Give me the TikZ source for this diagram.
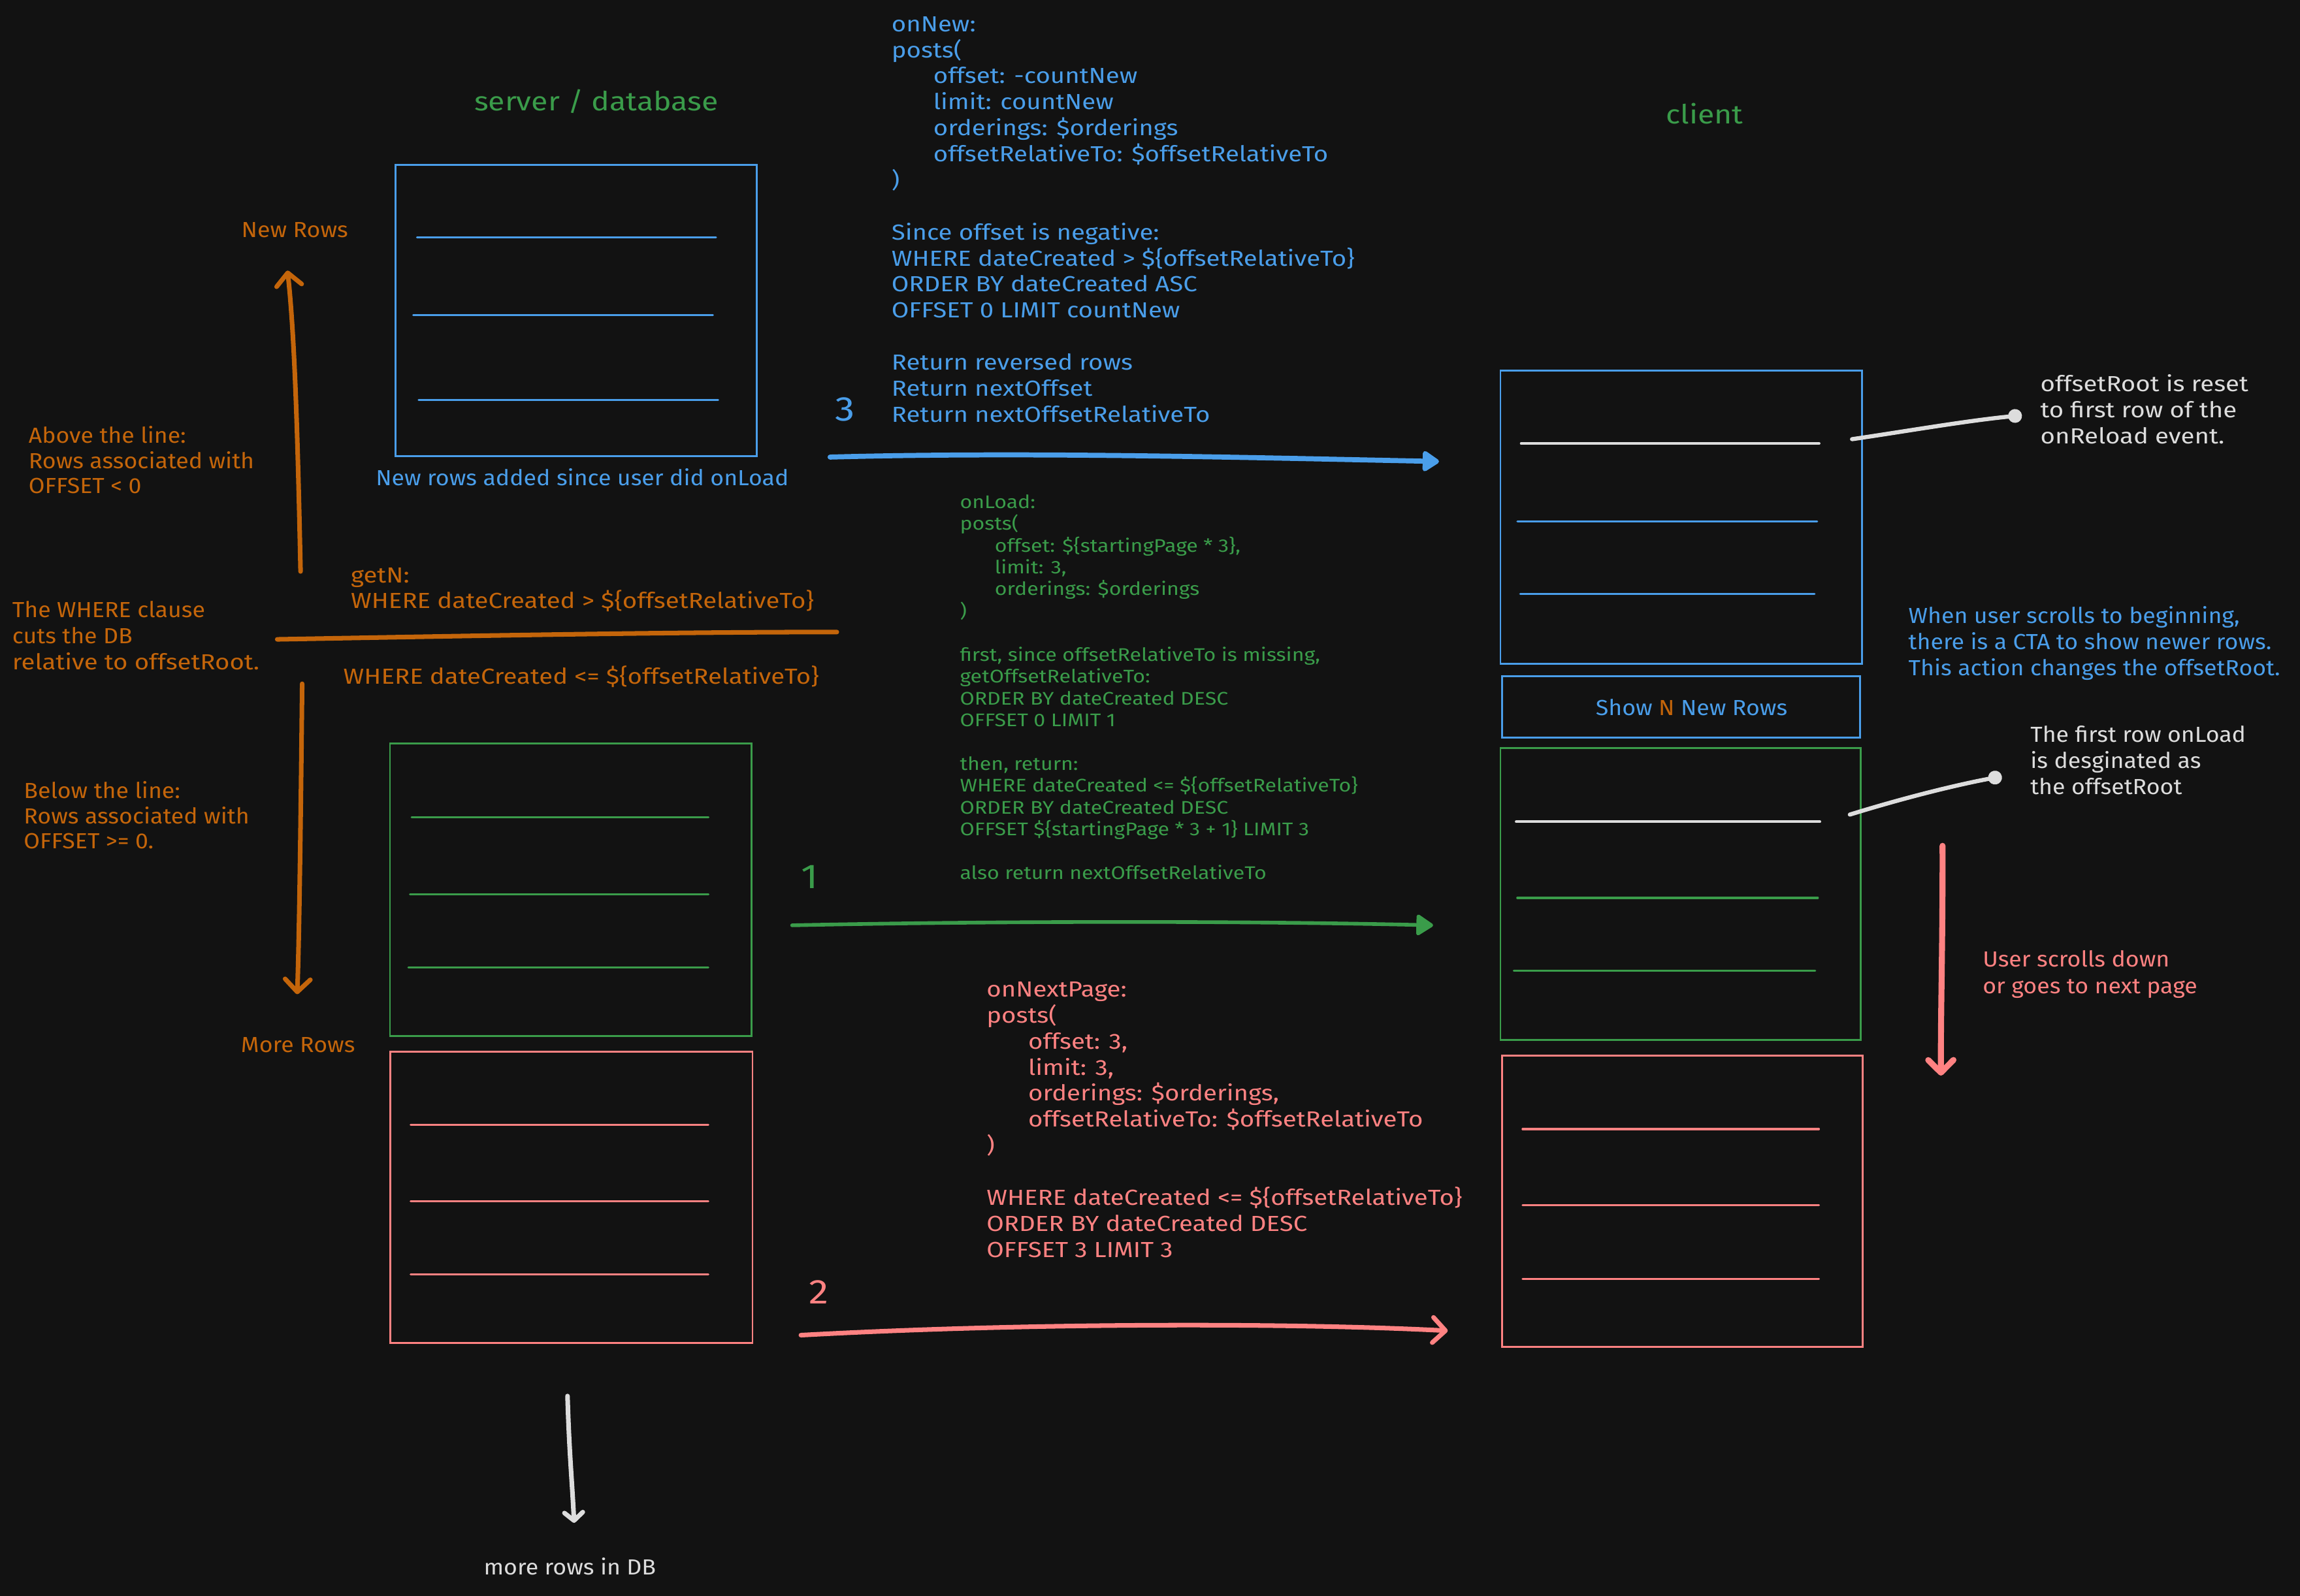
\documentclass[tikz,border=0pt]{standalone}
\usepackage{fontspec}
\setmainfont{Fira Sans}[FakeStretch=1.15]
\newfontfamily\lblfont{Fira Sans}[FakeStretch=1.07]
\usetikzlibrary{arrows.meta}
\definecolor{bg}{HTML}{121212}
\definecolor{cblue}{HTML}{4A9EEA}
\definecolor{cgreen}{HTML}{3A9C4A}
\definecolor{corange}{HTML}{C4650A}
\definecolor{cred}{HTML}{FF8282}
\definecolor{cwhite}{HTML}{DDDDDD}
\begin{document}
\begin{tikzpicture}[x=0.022456cm,y=-0.022456cm,
  txt/.style={anchor=base west, inner sep=0pt, font=\fontsize{9.5}{11}\selectfont},
  lbl/.style={anchor=base west, inner sep=0pt, font=\lblfont\fontsize{9.5}{11}\selectfont},
  gtxt/.style={anchor=base west, inner sep=0pt, font=\fontsize{7.95}{9}\selectfont},
  ttl/.style={anchor=base west, inner sep=0pt, font=\fontsize{11.5}{14}\selectfont},
  digit/.style={anchor=base west, inner sep=0pt, font=\fontsize{15}{18}\selectfont},
  boxline/.style={line width=0.8pt},
  rowline/.style={line width=0.9pt, line cap=round},
  arrbarb/.style={line width=2pt, line cap=round, line join=round,
    -{Straight Barb[length=5.5pt,width=11pt,line cap=round,line join=round]}},
  arrtri/.style={line width=1.6pt, line cap=round, line join=round,
    -{Triangle[length=8pt,width=10pt,round]}},
  dotarr/.style={line width=1.8pt, line cap=round, -{Circle[length=6pt]}},
]
\path[use as bounding box, fill=bg] (0,0) rectangle (1568,1088.3);

% ---------- titles ----------
\node[ttl, cgreen] (tserver) at (323,75.7) {server / database};
\node[ttl, cgreen] (tclient) at (1135.4,84.6) {client};

% ---------- server boxes ----------
\draw[cblue, boxline] (269.5,112.5) rectangle (515.8,311);
\draw[cblue, rowline] (284.3,161.7) -- (488.1,161.7);
\draw[cblue, rowline] (281.7,214.8) -- (486,214.8);
\draw[cblue, rowline] (285.4,272.6) -- (489.6,272.6);
\node[lbl, cblue] (tnewadded) at (255.9,331) {New rows added since user did onLoad};

\draw[cgreen, boxline] (265.9,506.9) rectangle (512.5,706.5);
\draw[cgreen, rowline] (280.6,557.2) -- (483,557.2);
\draw[cgreen, rowline] (279.5,610) -- (483,610);
\draw[cgreen, rowline] (278.4,659.6) -- (482.9,659.6);

\draw[cred, boxline] (266.2,717.1) rectangle (513,915.8);
\draw[cred, rowline] (280,767) -- (482.9,767);
\draw[cred, rowline] (280,819.1) -- (482.9,819.1);
\draw[cred, rowline] (280,869.2) -- (482.9,869.2);

% ---------- left orange labels ----------
\node[lbl, corange] (tnewrows) at (164.3,161.7) {New Rows};
\node[lbl, corange] (tab1) at (19.2,302.3) {Above the line:};
\node[lbl, corange] (tab2) at (19.2,319.4) {Rows associated with};
\node[lbl, corange] (tab3) at (19.2,336.6) {OFFSET < 0};
\node[lbl, corange] (twh1) at (8.1,420.9) {The WHERE clause};
\node[lbl, corange] (twh2) at (8.1,438.7) {cuts the DB};
\node[txt, corange] (twh3) at (8.1,456.5) {relative to offsetRoot.};
\node[txt, corange] (tgetn) at (238.9,397.6) {getN:};
\node[txt, corange] (tgt) at (238.9,414.7) {WHERE dateCreated > \$\{offsetRelativeTo\}};
\node[txt, corange] (tle) at (233.8,466.3) {WHERE dateCreated <= \$\{offsetRelativeTo\}};
\node[lbl, corange] (tbe1) at (15.9,544.4) {Below the line:};
\node[lbl, corange] (tbe2) at (15.9,561.6) {Rows associated with};
\node[lbl, corange] (tbe3) at (15.9,578.8) {OFFSET >= 0.};
\node[lbl, corange] (tmorerows) at (164,717.7) {More Rows};

\coordinate (ou1) at (204.9,389.7);
\coordinate (ou2) at (196,184.5);
\draw[corange, arrbarb] (ou1) .. controls (203,300) and (201,230) .. (ou2);
\coordinate (od1) at (206,466.3);
\coordinate (od2) at (202.6,678);
\draw[corange, arrbarb] (od1) .. controls (205,560) and (204,640) .. (od2);
\coordinate (ol1) at (189,436);
\coordinate (ol2) at (570.5,431);
\draw[corange, line width=2pt, line cap=round] (ol1) .. controls (300,434) and (450,431) .. (ol2);

% ---------- more rows in DB ----------
\coordinate (wd1) at (386.9,952);
\coordinate (wd2) at (391.4,1038.5);
\draw[cwhite, line width=2pt, line cap=round, line join=round,
  -{Straight Barb[length=3.5pt,width=8pt,line cap=round,line join=round]}]
  (wd1) .. controls (388,990) and (390,1010) .. (wd2);
\node[lbl, cwhite] (tmoredb) at (329.5,1074.1) {more rows in DB};

% ---------- blue code (onNew) ----------
\node[txt, cblue] (b0) at (607.5,21.5) {onNew:};
\node[txt, cblue] (b1) at (607.5,21.5+17.75*1) {posts(};
\node[txt, cblue] (b2) at (636,21.5+17.75*2) {offset: -countNew};
\node[txt, cblue] (b3) at (636,21.5+17.75*3) {limit: countNew};
\node[txt, cblue] (b4) at (636,21.5+17.75*4) {orderings: \$orderings};
\node[txt, cblue] (b5) at (636,21.5+17.75*5) {offsetRelativeTo: \$offsetRelativeTo};
\node[txt, cblue] (b6) at (607.5,21.5+17.75*6) {)};
\node[txt, cblue] (b8) at (607.5,21.5+17.75*8) {Since offset is negative:};
\node[txt, cblue] (b9) at (607.5,21.5+17.75*9) {WHERE dateCreated > \$\{offsetRelativeTo\}};
\node[txt, cblue] (b10) at (607.5,21.5+17.75*10) {ORDER BY dateCreated ASC};
\node[txt, cblue] (b11) at (607.5,21.5+17.75*11) {OFFSET 0 LIMIT countNew};
\node[txt, cblue] (b13) at (607.5,21.5+17.75*13) {Return reversed rows};
\node[txt, cblue] (b14) at (607.5,21.5+17.75*14) {Return nextOffset};
\node[txt, cblue] (b15) at (607.5,21.5+17.75*15) {Return nextOffsetRelativeTo};
\node[digit, cblue] (d3) at (569,287) {3};
\coordinate (ba1) at (565.9,311.7);
\coordinate (ba2) at (981,314.7);
\draw[cblue, arrtri, line width=2.2pt] (ba1) .. controls (700,308) and (850,312) .. (ba2);

% ---------- green code (onLoad) ----------
\node[gtxt, cgreen] (g0) at (654.1,346.6) {onLoad:};
\node[gtxt, cgreen] (g1) at (654.1,346.6+14.88*1) {posts(};
\node[gtxt, cgreen] (g2) at (677.9,346.6+14.88*2) {offset: \$\{startingPage * 3\},};
\node[gtxt, cgreen] (g3) at (677.9,346.6+14.88*3) {limit: 3,};
\node[gtxt, cgreen] (g4) at (677.9,346.6+14.88*4) {orderings: \$orderings};
\node[gtxt, cgreen] (g5) at (654.1,346.6+14.88*5) {)};
\node[gtxt, cgreen] (g7) at (654.1,346.6+14.88*7) {first, since offsetRelativeTo is missing,};
\node[gtxt, cgreen] (g8) at (654.1,346.6+14.88*8) {getOffsetRelativeTo:};
\node[gtxt, cgreen] (g9) at (654.1,346.6+14.88*9) {ORDER BY dateCreated DESC};
\node[gtxt, cgreen] (g10) at (654.1,346.6+14.88*10) {OFFSET 0 LIMIT 1};
\node[gtxt, cgreen] (g12) at (654.1,346.6+14.88*12) {then, return:};
\node[gtxt, cgreen] (g13) at (654.1,346.6+14.88*13) {WHERE dateCreated <= \$\{offsetRelativeTo\}};
\node[gtxt, cgreen] (g14) at (654.1,346.6+14.88*14) {ORDER BY dateCreated DESC};
\node[gtxt, cgreen] (g15) at (654.1,346.6+14.88*15) {OFFSET \$\{startingPage * 3 + 1\} LIMIT 3};
\node[gtxt, cgreen] (g17) at (654.1,346.6+14.88*17) {also return nextOffsetRelativeTo};
\node[digit, cgreen] (d1) at (546,606) {1};
\coordinate (ga1) at (540,631);
\coordinate (ga2) at (977,631);
\draw[cgreen, arrtri] (ga1) .. controls (680,628) and (850,628) .. (ga2);

% ---------- red code (onNextPage) ----------
\node[txt, cred] (r0) at (672.3,679.8) {onNextPage:};
\node[txt, cred] (r1) at (672.3,679.8+17.75*1) {posts(};
\node[txt, cred] (r2) at (700.7,679.8+17.75*2) {offset: 3,};
\node[txt, cred] (r3) at (700.7,679.8+17.75*3) {limit: 3,};
\node[txt, cred] (r4) at (700.7,679.8+17.75*4) {orderings: \$orderings,};
\node[txt, cred] (r5) at (700.7,679.8+17.75*5) {offsetRelativeTo: \$offsetRelativeTo};
\node[txt, cred] (r6) at (672.3,679.8+17.75*6) {)};
\node[txt, cred] (r8) at (672.3,679.8+17.75*8) {WHERE dateCreated <= \$\{offsetRelativeTo\}};
\node[txt, cred] (r9) at (672.3,679.8+17.75*9) {ORDER BY dateCreated DESC};
\node[txt, cred] (r10) at (672.3,679.8+17.75*10) {OFFSET 3 LIMIT 3};
\node[digit, cred] (d2) at (551,889) {2};
\coordinate (ra1) at (546,910.5);
\coordinate (ra2) at (987,907.5);
\draw[cred, arrbarb] (ra1) .. controls (700,902) and (880,902) .. (ra2);

% ---------- client boxes ----------
\draw[cblue, boxline] (1022.9,252.8) rectangle (1269.4,452.7);
\draw[cwhite, rowline, line width=1.1pt] (1037,302.4) -- (1240.2,302.4);
\draw[cblue, rowline] (1034.5,355.7) -- (1238.8,355.7);
\draw[cblue, rowline] (1036.4,405) -- (1237,405);

\draw[cblue, boxline] (1024,461.2) rectangle (1268,503);
\node[lbl, cblue, anchor=base] (tshow) at (1153.2,487.9) {Show {\color{corange}N} New Rows};

\draw[cgreen, boxline] (1022.9,510.2) rectangle (1268.4,709);
\draw[cwhite, rowline, line width=1.1pt] (1033.6,560.4) -- (1240.7,560.4);
\draw[cgreen, rowline] (1034.4,612.3) -- (1239.3,612.3);
\draw[cgreen, rowline] (1032,662) -- (1237.5,662);

\draw[cred, boxline] (1024,719.8) rectangle (1270,918.5);
\draw[cred, rowline] (1038,770) -- (1240,770);
\draw[cred, rowline] (1038,822) -- (1240,822);
\draw[cred, rowline] (1038,872) -- (1240,872);

% ---------- right annotations ----------
\node[txt, cwhite] (or1) at (1390.7,266.8) {offsetRoot is reset};
\node[txt, cwhite] (or2) at (1390.7,284.6) {to first row of the};
\node[txt, cwhite] (or3) at (1390.7,302.4) {onReload event.};
\coordinate (wa1) at (1262.6,299.5);
\coordinate (wa2) at (1378.4,283.2);
\draw[cwhite, dotarr] (wa1) .. controls (1300,294) and (1340,287) .. (wa2);

\node[lbl, cblue] (cta1) at (1300.8,424.9) {When user scrolls to beginning,};
\node[lbl, cblue] (cta2) at (1300.8,442.9) {there is a CTA to show newer rows.};
\node[lbl, cblue] (cta3) at (1300.8,460.8) {This action changes the offsetRoot.};

\node[lbl, cwhite] (fr1) at (1383.9,505.9) {The first row onLoad};
\node[lbl, cwhite] (fr2) at (1383.9,523.9) {is desginated as};
\node[lbl, cwhite] (fr3) at (1383.9,541.8) {the offsetRoot};
\coordinate (wb1) at (1261.1,555.5);
\coordinate (wb2) at (1364.7,529.4);
\draw[cwhite, dotarr] (wb1) .. controls (1295,545) and (1330,536) .. (wb2);

\coordinate (rd1) at (1324.3,576.8);
\coordinate (rd2) at (1323.2,733.5);
\draw[cred, arrbarb, line width=2.6pt] (rd1) .. controls (1324.5,640) and (1323,690) .. (rd2);
\node[lbl, cred] (us1) at (1351.4,659.4) {User scrolls down};
\node[lbl, cred] (us2) at (1351.4,677.4) {or goes to next page};
\end{tikzpicture}
\end{document}
